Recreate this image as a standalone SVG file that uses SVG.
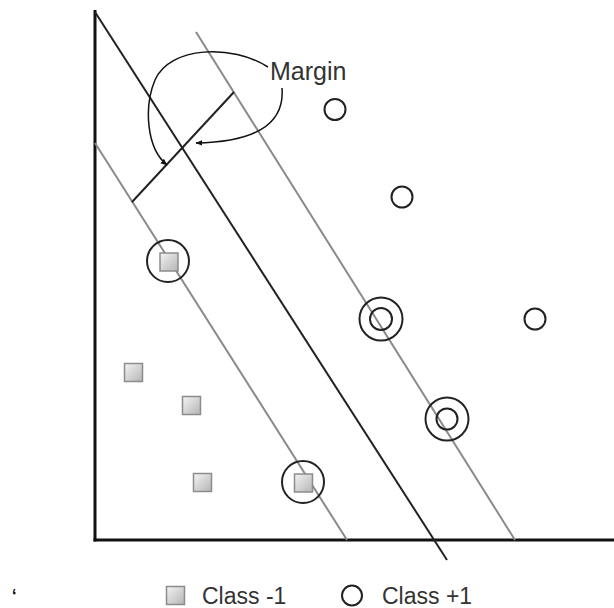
<svg xmlns="http://www.w3.org/2000/svg" width="614" height="608" viewBox="0 0 614 608">
  <style>
    .axis { stroke: #111; stroke-width: 3; fill: none; }
    .hyper { stroke: #222; stroke-width: 2; fill: none; }
    .margin { stroke: #8a8a8a; stroke-width: 2; fill: none; }
    .pt { stroke: #222; stroke-width: 2; fill: none; }
    .sq { fill: url(#sqGrad); stroke: #8c8c8c; stroke-width: 1.5; }
    .curve { stroke: #111; stroke-width: 1.5; fill: none; marker-end: url(#arrow); }
    .lbl { font-family: "Liberation Sans", Arial, sans-serif; fill: #333; }
  </style>
  <defs>
    <linearGradient id="sqGrad" x1="0" y1="0" x2="1" y2="1">
      <stop offset="0" stop-color="#f4f4f4"/>
      <stop offset="1" stop-color="#b4b4b4"/>
    </linearGradient>
    <marker id="arrow" viewBox="0 0 10 10" refX="9" refY="5" markerWidth="7" markerHeight="7" orient="auto" markerUnits="userSpaceOnUse">
      <path d="M0,1 L10,5 L0,9 z" fill="#111"/>
    </marker>
  </defs>
  <rect width="614" height="608" fill="#fff"/>

  <g id="connectors">
    <line class="axis" x1="95" y1="10" x2="95" y2="541.5"/>
    <line class="axis" x1="93.5" y1="540" x2="614" y2="540"/>
    <line class="margin" x1="95" y1="143" x2="347" y2="540"/>
    <line class="margin" x1="196" y1="32" x2="515" y2="540"/>
    <line class="hyper" x1="95" y1="12" x2="447" y2="560"/>
    <line class="hyper" x1="132" y1="202" x2="234" y2="92"/>
    <path class="curve" d="M 268 67 C 232 44, 170 46, 155 80 C 144 106, 146 148, 167 165"/>
    <path class="curve" d="M 282 88 C 285 126, 252 142, 196 143"/>
  </g>

  <g id="margin-label">
    <text class="lbl" x="270" y="80" font-size="25" fill="#444">Margin</text>
  </g>

  <g id="pos1"><circle class="pt" cx="335" cy="109.5" r="10.5"/></g>
  <g id="pos2"><circle class="pt" cx="402" cy="197" r="10.5"/></g>
  <g id="pos3"><circle class="pt" cx="535" cy="319" r="10.5"/></g>
  <g id="pos-sv1">
    <circle class="pt" cx="381" cy="319" r="21.5"/>
    <circle class="pt" cx="381" cy="319" r="11"/>
  </g>
  <g id="pos-sv2">
    <circle class="pt" cx="447" cy="419" r="21.5"/>
    <circle class="pt" cx="447" cy="419" r="10.5"/>
  </g>

  <g id="neg-sv1">
    <rect class="sq" x="160" y="253" width="18" height="18"/>
    <circle class="pt" cx="168" cy="261" r="21"/>
  </g>
  <g id="neg-sv2">
    <rect class="sq" x="294.5" y="474" width="18" height="18"/>
    <circle class="pt" cx="303" cy="482" r="21"/>
  </g>
  <g id="neg1"><rect class="sq" x="124.5" y="363.5" width="18" height="18"/></g>
  <g id="neg2"><rect class="sq" x="182.5" y="396.5" width="18" height="18"/></g>
  <g id="neg3"><rect class="sq" x="193.5" y="473.5" width="18" height="18"/></g>

  <g id="legend">
    <rect class="sq" x="166.5" y="586.5" width="18" height="18"/>
    <text class="lbl" x="202" y="603.5" font-size="23">Class -1</text>
    <circle class="pt" cx="352" cy="595.5" r="10"/>
    <text class="lbl" x="382" y="603.5" font-size="23">Class +1</text>
  </g>

  <g id="mark">
    <text x="12" y="601" font-family="'Liberation Sans', Arial, sans-serif" font-size="16" font-weight="bold" fill="#000">‘</text>
  </g>
</svg>
